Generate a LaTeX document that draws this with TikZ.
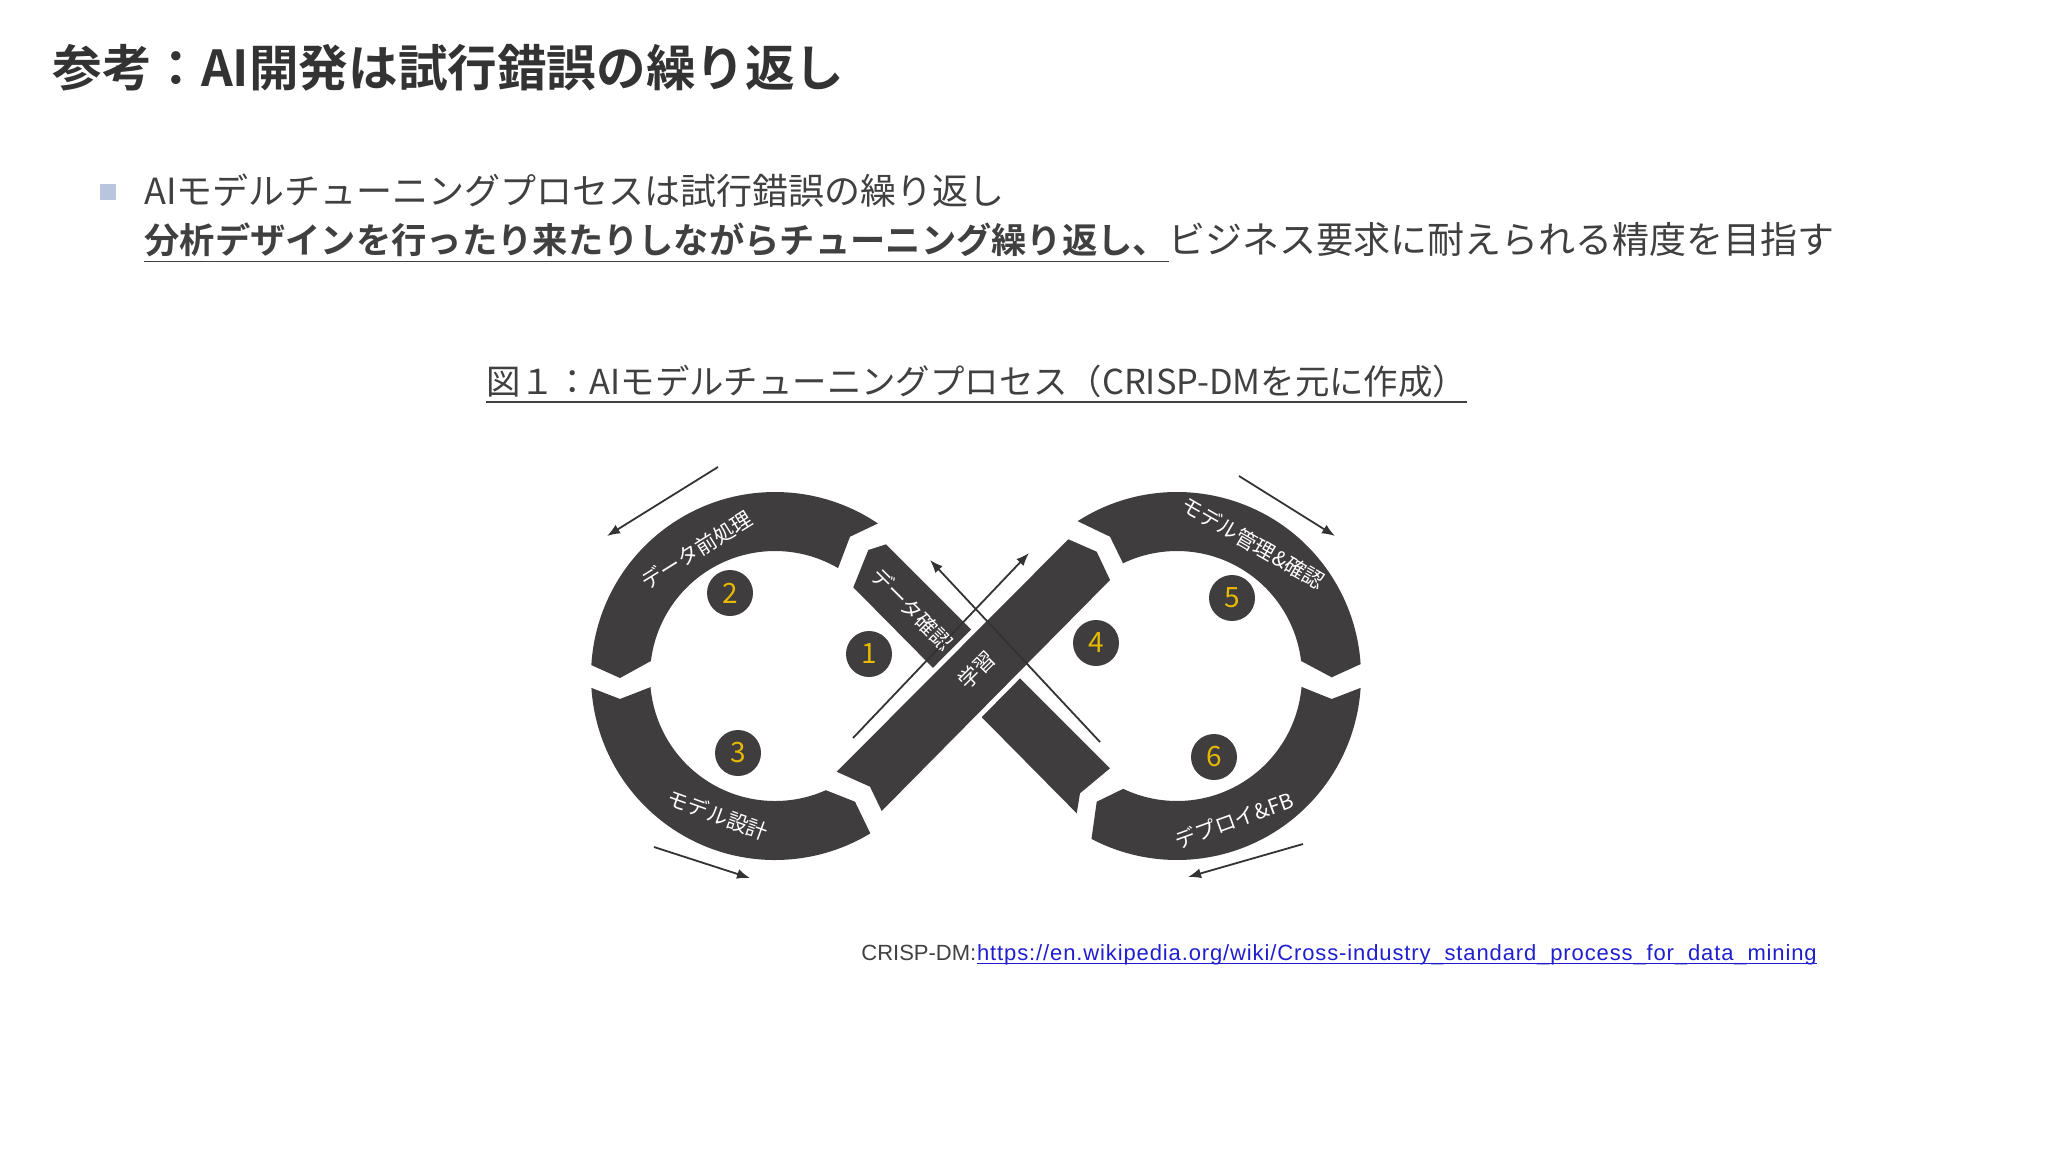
\documentclass[tikz,border=0pt]{standalone}
\usepackage{fontspec}
\setmainfont{Noto Sans CJK JP}[BoldFont={Noto Sans CJK JP Bold}]
\newfontfamily\urlfont{Liberation Sans}
\newfontfamily\urlwide{Liberation Sans}[LetterSpace=4]
\usetikzlibrary{arrows.meta,positioning,calc}

\definecolor{ringgray}{HTML}{3F3D3D}
\definecolor{numgold}{HTML}{E6B800}
\definecolor{titlegray}{HTML}{333333}
\definecolor{bodygray}{HTML}{404040}
\definecolor{bulletblue}{HTML}{B8C5DD}
\definecolor{linkblue}{HTML}{1F1FD0}

\begin{document}
\begin{tikzpicture}[x=0.5pt,y=-0.5pt]
        \tikzstyle{every node}=[inner sep=0pt]
        \tikzstyle{ring}=[fill=ringgray]
        \tikzstyle{num}=[circle,fill=ringgray,minimum size=23pt,text=numgold,font=\fontsize{14pt}{14pt}\selectfont]
        \tikzstyle{lbl}=[text=white,font=\fontsize{10.5pt}{10.5pt}\selectfont]
        \tikzstyle{flow}=[draw=titlegray,line width=0.9pt,-{Latex[length=6.5pt,width=5pt]}]
        \tikzstyle{body}=[anchor=west,text=bodygray,font=\fontsize{18pt}{20pt}\selectfont]
        \tikzstyle{uline}=[draw=bodygray,line width=0.8pt]
        \useasboundingbox[fill=white] (0,0) rectangle (2048,1152);

        % heading and bullet text
        \node[anchor=west,text=titlegray,font=\fontsize{24.8pt}{28pt}\selectfont\bfseries] (title) at (52,68) {参考：AI開発は試行錯誤の繰り返し};
        \node[fill=bulletblue,minimum size=8pt] (bullet) at (108,192) {};
        \node[body] (line1) at (144,191) {AIモデルチューニングプロセスは試行錯誤の繰り返し};
        \node[body,font=\fontsize{17.65pt}{20pt}\selectfont\bfseries] (line2a) at (144,240) {分析デザインを行ったり来たりしながらチューニング繰り返し、};
        \node[body,anchor=base west,font=\fontsize{18.5pt}{20pt}\selectfont] (line2b) at (line2a.base east) {ビジネス要求に耐えられる精度を目指す};
        \draw[uline] ([yshift=-2pt]line2a.south west) -- ([yshift=-2pt]line2a.south east);
        \node[body,font=\fontsize{17.2pt}{20pt}\selectfont] (caption) at (486,381) {図１：AIモデルチューニングプロセス（CRISP-DMを元に作成）};
        \draw[uline] ([yshift=-2pt]caption.south west) -- ([yshift=-2pt]caption.south east);

        % loops of the eight
        \coordinate (L) at (775,676);
        \coordinate (R) at (1177,676);
        \fill[ring] ($(L)+(183.4:184)$) arc[start angle=183.4,end angle=304,radius=184] -- (850,536.7) -- ($(L)+(300.3:125)$) arc[start angle=300.3,end angle=186.9,radius=125] -- (620,678) -- cycle;
        \fill[ring] ($(L)+(176.3:184)$) arc[start angle=176.3,end angle=58.8,radius=184] -- (855,801.7) -- ($(L)+(66:125)$) arc[start angle=66,end angle=174.9,radius=125] -- (620,699) -- cycle;
        \fill[ring] ($(R)+(237.3:184)$) arc[start angle=237.3,end angle=356.3,radius=184] -- (1331.7,677.3) -- ($(R)+(353.1:125)$) arc[start angle=353.1,end angle=244.4,radius=125] -- (1110,536.7) -- cycle;
        \fill[ring] ($(R)+(3.7:184)$) arc[start angle=3.7,end angle=117.7,radius=184] -- (1096.7,801.7) -- ($(R)+(115.5:125)$) arc[start angle=115.5,end angle=5,radius=125] -- (1331.7,699) -- cycle;

        % crossing bars
        \fill[ring] (868.3,550) -- (886,544.3) -- (1110,768.3) -- (1080,793.3) -- (1076.7,813.3) -- (853.3,587.3) -- cycle;
        \path[ring,preaction={draw=white,line width=5pt}] (836.7,771.7) -- (870,786.7) -- (881.7,811) -- (1110,580) -- (1096.7,551.7) -- (1068.3,539.3) -- cycle;

        % labels on the track
        \node[lbl,rotate=32] (prep) at (697,550) {データ前処理};
        \node[lbl,rotate=-20] (design) at (718,815) {モデル設計};
        \node[lbl,rotate=-30] (manage) at (1253,543) {モデル管理\&確認};
        \node[lbl,rotate=20] (deploy) at (1234,820) {デプロイ\&FB};
        \node[lbl,rotate=-45] (check) at (912,609) {データ確認};
        \node[lbl,rotate=45] (learn) at (977,670) {学習};

        % step numbers
        \node[num] (n1) at (869,654) {1};
        \node[num] (n2) at (730,593) {2};
        \node[num] (n3) at (738,753) {3};
        \node[num] (n4) at (1096,643) {4};
        \node[num] (n5) at (1232,598) {5};
        \node[num] (n6) at (1214,757) {6};

        % direction arrows
        \coordinate (lt1) at (718,467); \coordinate (lt2) at (607,536);
        \coordinate (lb1) at (654,847); \coordinate (lb2) at (750,878);
        \coordinate (rt1) at (1239,476); \coordinate (rt2) at (1335,536);
        \coordinate (rb1) at (1303,844); \coordinate (rb2) at (1188,877);
        \coordinate (ca1) at (853,738); \coordinate (ca2) at (1029,553);
        \coordinate (cb1) at (1100,742); \coordinate (cb2) at (930,560);
        \draw[flow] (lt1) -- (lt2);
        \draw[flow] (lb1) -- (lb2);
        \draw[flow] (rt1) -- (rt2);
        \draw[flow] (rb1) -- (rb2);
        \draw[flow] (ca1) -- (ca2);
        \draw[flow] (cb1) -- (cb2);

        % source
        \node[anchor=west,text=bodygray,font=\urlfont\fontsize{11pt}{13pt}\selectfont] (src) at (861,953) {CRISP-DM:};
        \node[anchor=base west,text=linkblue,font=\urlwide\fontsize{11pt}{13pt}\selectfont] (url) at (src.base east) {https://en.wikipedia.org/wiki/Cross-industry\_standard\_process\_for\_data\_mining};
        \draw[draw=linkblue,line width=0.6pt] ([yshift=-1.5pt]url.base west) -- ([yshift=-1.5pt]url.base east);
\end{tikzpicture}
\end{document}
